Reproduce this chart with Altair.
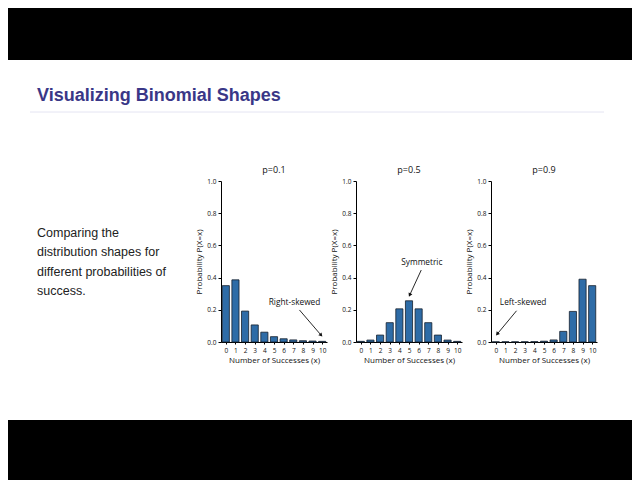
import altair as alt
import pandas as pd

# ---- data ----
SUCCESSES = [0, 1, 2, 3, 4, 5, 6, 7, 8, 9, 10]
PANEL_TITLES = ["p=0.1", "p=0.5", "p=0.9"]
PROB_P01 = [0.350, 0.386, 0.192, 0.106, 0.061, 0.033, 0.020, 0.013, 0.008, 0.006, 0.004]
PROB_P05 = [0.004, 0.012, 0.043, 0.120, 0.206, 0.256, 0.206, 0.120, 0.043, 0.012, 0.004]
PROB_P09 = [0.001, 0.001, 0.001, 0.001, 0.002, 0.005, 0.013, 0.066, 0.190, 0.390, 0.350]

ANNOT_TEXT = ["Right-skewed", "Symmetric", "Left-skewed"]
ANNOT_TEXT_X = [7.13, 6.33, 2.83]
ANNOT_TEXT_Y = [0.240, 0.489, 0.240]
ARROW_X0 = [7.64, 6.27, 2.15]
ARROW_Y0 = [0.199, 0.447, 0.194]
ARROW_X1 = [9.85, 5.10, 0.18]
ARROW_Y1 = [0.045, 0.295, 0.052]
ARROW_ANGLE = [139, 205, 220]

SLIDE_TITLE = "Visualizing Binomial Shapes"
SLIDE_TEXT = ["Comparing the", "distribution shapes for",
              "different probabilities of", "success."]

Y_TICKS = [0, 0.2, 0.4, 0.6, 0.8, 1.0]

CHART_FONT = "Open Sans"
SLIDE_FONT = "Liberation Sans"

PLOT_W, PLOT_H = 106, 161
FULL_W = 624

XSCALE = alt.Scale(domain=[-0.5, 10.5], nice=False, zero=False)
YSCALE = alt.Scale(domain=[0, 1], nice=False)
XAXIS = alt.Axis(values=SUCCESSES, format="d", title="Number of Successes (x)",
                 labelFontSize=6.5, titleFontSize=8, titleFontWeight="normal",
                 labelFont=CHART_FONT, titleFont=CHART_FONT, labelOverlap=False,
                 domainColor="#000", tickColor="#000", tickSize=2,
                 labelColor="#111", titleColor="#111",
                 labelPadding=3, titlePadding=3, grid=False)
YAXIS = alt.Axis(values=Y_TICKS, format=".1f", title="Probability P(X=x)",
                 labelFontSize=6.5, titleFontSize=8, titleFontWeight="normal",
                 labelFont=CHART_FONT, titleFont=CHART_FONT, labelOverlap=False,
                 domainColor="#000", tickColor="#000", tickSize=3,
                 labelColor="#111", titleColor="#111",
                 labelPadding=2, titlePadding=3, grid=False)


def panel(i, probs):
    df = pd.DataFrame({"x": SUCCESSES, "p": probs})
    base = alt.Chart(df).transform_calculate(
        x0="datum.x - 0.37", x1="datum.x + 0.37"
    )
    bars = base.mark_rect(
        fill="#2e6ca7", stroke="#15202c", strokeWidth=0.8
    ).encode(
        x=alt.X("x0:Q", scale=XSCALE, axis=XAXIS),
        x2="x1:Q",
        y=alt.Y("p:Q", scale=YSCALE, axis=YAXIS),
        y2=alt.datum(0),
    )
    ann = pd.DataFrame({
        "t": [ANNOT_TEXT[i]], "tx": [ANNOT_TEXT_X[i]], "ty": [ANNOT_TEXT_Y[i]],
        "ax0": [ARROW_X0[i]], "ay0": [ARROW_Y0[i]],
        "ax1": [ARROW_X1[i]], "ay1": [ARROW_Y1[i]], "ang": [ARROW_ANGLE[i]],
    })
    abase = alt.Chart(ann)
    label = abase.mark_text(font=CHART_FONT, fontSize=8.3, color="#111").encode(
        x=alt.X("tx:Q", scale=XSCALE, axis=XAXIS),
        y=alt.Y("ty:Q", scale=YSCALE, axis=YAXIS), text="t:N"
    )
    shaft = abase.mark_rule(color="#111", strokeWidth=0.9).encode(
        x=alt.X("ax0:Q", scale=XSCALE, axis=XAXIS),
        y=alt.Y("ay0:Q", scale=YSCALE, axis=YAXIS),
        x2="ax1:Q", y2="ay1:Q"
    )
    head = abase.mark_point(shape="triangle", filled=True, color="#111", size=18, opacity=1).encode(
        x=alt.X("ax1:Q", scale=XSCALE, axis=XAXIS),
        y=alt.Y("ay1:Q", scale=YSCALE, axis=YAXIS),
        angle=alt.Angle("ang:Q", scale=None)
    )
    return alt.layer(bars, shaft, head, label).properties(
        width=PLOT_W, height=PLOT_H,
        title=alt.TitleParams(PANEL_TITLES[i], fontSize=9, fontWeight="normal",
                              font=CHART_FONT, color="#111", offset=3, anchor="middle"),
    )


# ---- header (black band, title, rule) ----
HEADER_H = 158
hdr_df = pd.DataFrame({"t": [SLIDE_TITLE]})
hdr_base = alt.Chart(hdr_df)
band_top = hdr_base.mark_rect(color="black").encode(
    x=alt.value(0), x2=alt.value(FULL_W), y=alt.value(0), y2=alt.value(52)
)
title_txt = hdr_base.mark_text(
    font=SLIDE_FONT, fontSize=18, fontWeight="bold", color="#3a3787",
    align="left", baseline="alphabetic"
).encode(x=alt.value(29), y=alt.value(93), text="t:N")
title_rule = hdr_base.mark_rule(color="#e4e4f2", strokeWidth=1).encode(
    x=alt.value(22), x2=alt.value(596), y=alt.value(104)
)
header = alt.layer(band_top, title_txt, title_rule).properties(width=FULL_W, height=HEADER_H)

# ---- left text panel ----
TEXT_W = 184
txt_df = pd.DataFrame({"t": [SLIDE_TEXT]})
text_panel = alt.Chart(txt_df).mark_text(
    font=SLIDE_FONT, fontSize=12.5, color="#222", align="left",
    baseline="alphabetic", lineHeight=19.3
).encode(x=alt.value(29), y=alt.value(56), text="t").properties(width=TEXT_W, height=194)

row = alt.hconcat(
    text_panel,
    panel(0, PROB_P01),
    panel(1, PROB_P05),
    panel(2, PROB_P09),
    spacing=3,
)

# ---- footer ----
FOOTER_H = 109
ftr = alt.Chart(hdr_df).mark_rect(color="black").encode(
    x=alt.value(0), x2=alt.value(FULL_W), y=alt.value(45), y2=alt.value(FOOTER_H)
).properties(width=FULL_W, height=FOOTER_H)

chart = alt.vconcat(header, row, ftr, spacing=0).properties(
    padding=0, background="white"
).configure_view(strokeWidth=0)

chart.save("out.html", embed_options={"renderer": "svg", "actions": False})
